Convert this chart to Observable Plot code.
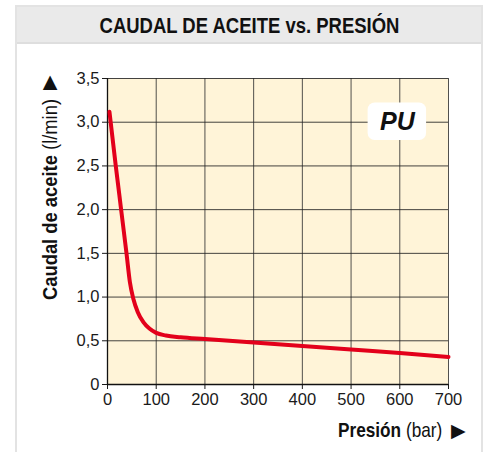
<!DOCTYPE html>
<html>
<head>
<meta charset="utf-8">
<script src="https://cdn.jsdelivr.net/npm/d3@7"></script>
<script src="https://cdn.jsdelivr.net/npm/@observablehq/plot@0.6"></script>
<style>
  html, body { margin: 0; padding: 0; background: #fff; }
  #wrap { position: relative; width: 487px; height: 452px; overflow: hidden; }
  #frame { position: absolute; left: 15px; top: 5px; width: 464px; height: 460px;
           border-left: 2px solid #e3e3e3; border-right: 2px solid #e3e3e3; border-top: 2px solid #e3e3e3; }
  #header { height: 35px; background: #eaeaea; border-bottom: 2px solid #dedede; text-align: center; }
  #title { display: inline-block; transform: scaleX(0.84); transform-origin: center;
           font-family: "Liberation Sans", Arial, sans-serif; font-weight: bold; font-size: 22px;
           color: #111; line-height: 37px; white-space: nowrap; }
  #chart { position: absolute; left: 0; top: 0; }
</style>
</head>
<body>
<div id="wrap">
  <div id="frame"><div id="header"><span id="title">CAUDAL DE ACEITE vs. PRESIÓN</span></div></div>
  <div id="chart"></div>
</div>
<script>
const xTicks = [0, 100, 200, 300, 400, 500, 600, 700];
const yTicks = [0, 0.5, 1.0, 1.5, 2.0, 2.5, 3.0, 3.5];
const yTickLabels = ["0", "0,5", "1,0", "1,5", "2,0", "2,5", "3,0", "3,5"];
const pressure = [4, 17, 28, 39, 46, 53, 62, 74, 86, 100, 120, 150, 200, 300, 400, 500, 600, 700];
const flow = [3.12, 2.5, 2.0, 1.5, 1.17, 0.98, 0.83, 0.71, 0.64, 0.59, 0.56, 0.54, 0.52, 0.48, 0.44, 0.40, 0.36, 0.315];
const badgeLabel = ["PU"];
const badgeX = [595];
const badgeY = [3.0];
const badgeX1 = [535], badgeX2 = [655], badgeY1 = [2.79], badgeY2 = [3.22];

const curve = pressure.map((p, i) => ({p, q: flow[i]}));
const badge = badgeLabel.map((t, i) => ({t, x: badgeX[i], y: badgeY[i], x1: badgeX1[i], x2: badgeX2[i], y1: badgeY1[i], y2: badgeY2[i]}));

const sans = '"Liberation Sans", Arial, sans-serif';

const svg = Plot.plot({
  width: 487,
  height: 452,
  marginLeft: 107,
  marginRight: 39,
  marginTop: 78,
  marginBottom: 68,
  style: { background: "transparent", fontFamily: sans, fontSize: "16px", color: "#1a1a1a" },
  x: { domain: [0, 700] },
  y: { domain: [0, 3.5] },
  marks: [
    Plot.frame({ fill: "#fff4d8", stroke: null }),
    Plot.ruleX(xTicks.filter(d => d > 0), { stroke: "#333", strokeOpacity: 0.85, strokeWidth: 1 }),
    Plot.ruleY(yTicks.filter(d => d > 0), { stroke: "#222", strokeOpacity: 0.85, strokeWidth: 1 }),
    Plot.axisX({ ticks: xTicks, tickSize: 5, tickPadding: 4, fontSize: 16.5, fontFamily: sans, label: null, tickFormat: d => String(d) }),
    Plot.axisY({ ticks: yTicks, tickSize: 5, tickPadding: 3, fontSize: 16.5, fontFamily: sans, label: null, tickFormat: d => yTickLabels[yTicks.indexOf(d)] }),
    Plot.ruleX([0], { stroke: "#111", strokeWidth: 1.3 }),
    Plot.ruleY([0], { stroke: "#111", strokeWidth: 1.3 }),
    Plot.line(curve, { x: "p", y: "q", stroke: "#e3001b", strokeWidth: 4, curve: "monotone-x", strokeLinecap: "round" }),
    Plot.rect(badge, { x1: "x1", x2: "x2", y1: "y1", y2: "y2", fill: "white", rx: 7 }),
    Plot.text(badge, { x: "x", y: "y", text: "t", fontSize: 25, fontWeight: "bold", fontStyle: "italic", fill: "#111", fontFamily: sans })
  ]
});

document.getElementById("chart").appendChild(svg);

const s = d3.select(svg);
function axisLabel(boldPart, normalPart, x, y, sx, rotate) {
  const t = s.append("text")
    .attr("transform", `translate(${x},${y})` + (rotate ? " rotate(-90)" : "") + ` scale(${sx},1)`)
    .attr("text-anchor", "start")
    .attr("font-family", sans)
    .attr("font-size", 21)
    .attr("fill", "#111");
  t.append("tspan").attr("font-weight", "bold").text(boldPart);
  t.append("tspan").attr("font-weight", "normal").text(" " + normalPart);
  return t;
}
function arrow(x, y, rotate) {
  return s.append("text")
    .attr("transform", `translate(${x},${y})` + (rotate ? " rotate(-90)" : ""))
    .attr("text-anchor", "start")
    .attr("font-family", '"DejaVu Sans", sans-serif')
    .attr("font-size", 19)
    .attr("fill", "#111")
    .text("▶");
}
// Y axis label (rotated)
axisLabel("Caudal de aceite", "(l/min)", 57, 300, 0.875, true);
arrow(55, 90, true);

// X axis label
axisLabel("Presión", "(bar)", 338, 437, 0.82, false);
arrow(451, 437, false);
</script>
</body>
</html>
